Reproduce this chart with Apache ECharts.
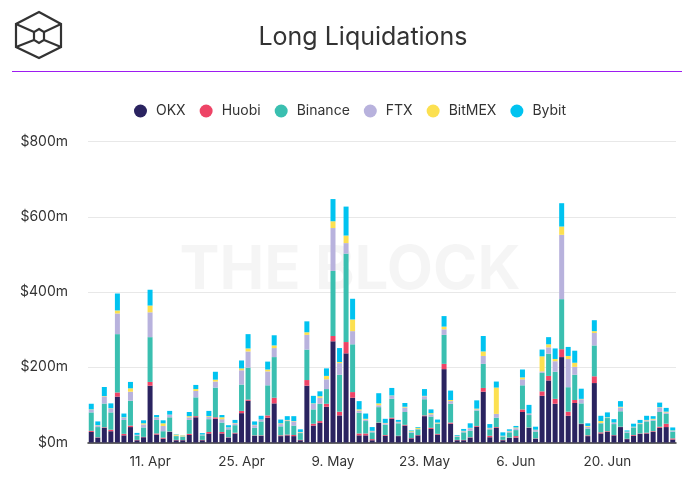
<!DOCTYPE html>
<html>
<head>
<meta charset="utf-8">
<script src="https://cdn.jsdelivr.net/npm/echarts@6/dist/echarts.min.js"></script>
<style>
html,body{margin:0;padding:0;background:#fff;}
#chart{width:700px;height:478px;}
</style>
</head>
<body>
<div id="chart"></div>
<script>
// Categories: one per day, 2 Apr .. 30 Jun (2022)
const startDate = '2022-04-02';
const dayCount = 90;
const monthNames = ['Jan','Feb','Mar','Apr','May','Jun','Jul','Aug','Sep','Oct','Nov','Dec'];
const tickLabels = ['11. Apr','25. Apr','9. May','23. May','6. Jun','20. Jun'];

const seriesNames = ['OKX','Huobi','Binance','FTX','BitMEX','Bybit'];
const seriesColors = ['#2a2360','#ee4466','#3abfb0','#b8b2dd','#fce050','#00c3f0'];

// values in $m
const okx = [28,13,39,30,122,19,41,6,14,151,21,10,28,6,6,20,67,6,24,63,24,13,24,78,111,18,18,66,104,17,19,17,6,151,45,52,95,269,72,237,119,19,19,6,52,18,63,17,45,11,19,70,36,21,195,50,6,6,13,42,135,14,39,6,12,13,81,39,10,124,165,103,227,71,105,49,17,158,24,28,19,41,9,18,23,24,28,39,41,8];
const huobi = [3,1,1.5,4,11,4,4,1,1,10,3,3,1,1,0.5,3,3,1,4,4,4,1,2,6,3,1,1,6,15,2,2,3,1,15,5,5,8,14,10,30,15,5,5,3,1,2,3,1,2,1,1,2,3,2,14,3,1,1,1,2,10,4,2,1,1,4,7,1,1,12,12,13,21,11,8,1,2,18,3,2,1,1,1,2,1,2,2,3,9,3];
const binance = [49,27,63,46,155,37,66,11,25,119,36,17,38,10,9,37,50,12,34,79,25,21,20,70,85,20,37,80,108,24,36,25,18,81,38,46,39,173,98,235,127,55,33,18,41,27,50,33,34,14,15,43,30,27,77,50,8,20,17,41,64,17,25,9,14,16,64,33,18,49,59,72,133,65,67,54,18,82,24,35,29,41,16,20,25,30,28,39,26,18];
const ftx = [7,4,19,10,55,6,24,2,8,66,6,14,6,1,1,7,17,1,6,16,9,4,5,38,43,7,4,37,24,6,2,11,2,39,15,16,26,114,31,28,35,6,4,3,5,4,8,3,12,2,1,8,6,1,15,7,2,3,7,3,21,3,10,1,3,5,16,3,4,4,17,28,171,75,21,11,5,33,1,1,3,10,2,1,2,3,3,12,4,2];
const bitmex = [1,1,1,1,8,1,9,0.5,3,18,1,7,1,3,2,3,5,1,2,5,5,1,1,5,8,1,1,5,7,2,1,1,1,7,1,4,9,18,3,20,31,3,2,1,5,1,1,1,2,2,3,1,3,2,7,3,1,1,1,2,12,1,70,1,1,2,5,1,1,40,8,6,22,8,11,1,2,5,5,1,1,2,1,1,1,1,2,1,2,1];
const bybit = [15,10,24,13,45,10,17,5,8,42,6,8,10,1,0.5,11,11,4,14,21,6,6,8,21,38,9,10,21,27,10,10,13,7,29,20,13,20,59,37,77,55,22,14,10,27,11,20,5,10,2,2,18,10,8,28,25,2,5,12,22,41,10,16,9,4,4,21,23,8,18,19,28,62,24,32,27,7,29,14,13,9,15,3,8,8,11,7,12,10,8];
const seriesValues = [okx, huobi, binance, ftx, bitmex, bybit];

const yTicks = {min: 0, max: 800, interval: 200};

// build category list
const categories = [];
const fmt = [];
(function(){
  const d0 = new Date(startDate + 'T00:00:00Z');
  for (let i = 0; i < dayCount; i++) {
    const d = new Date(d0.getTime() + i * 86400000);
    categories.push(d.toISOString().slice(0,10));
    fmt.push(d.getUTCDate() + '. ' + monthNames[d.getUTCMonth()]);
  }
})();

const chart = echarts.init(document.getElementById('chart'), null, {renderer: 'canvas'});
const FONT = 'Inter, "Noto Sans", sans-serif';

const option = {
  animation: false,
  backgroundColor: '#ffffff',
  textStyle: {fontFamily: FONT},
  graphic: [
    // logo
    {type: 'polygon', shape: {points: [[39,12],[61,24],[61,47],[39,58],[16,47],[16,24]]},
     style: {fill: 'none', stroke: '#333', lineWidth: 2.2}, z: 10},
    {type: 'polygon', shape: {points: [[39,29],[44,32],[44,40],[39,43],[34,40],[34,32]]},
     style: {fill: 'none', stroke: '#333', lineWidth: 2.2}, z: 10},
    {type: 'line', shape: {x1: 61, y1: 24, x2: 44, y2: 32}, style: {stroke: '#333', lineWidth: 2.2}, z: 10},
    {type: 'line', shape: {x1: 16, y1: 47, x2: 34, y2: 40}, style: {stroke: '#333', lineWidth: 2.2}, z: 10},
    {type: 'line', shape: {x1: 16, y1: 24, x2: 34, y2: 32}, style: {stroke: '#333', lineWidth: 2.2}, z: 10},
    {type: 'line', shape: {x1: 61, y1: 47, x2: 44, y2: 40}, style: {stroke: '#333', lineWidth: 2.2}, z: 10},
    // title
    {type: 'text', x: 363, y: 37, style: {text: 'Long Liquidations', fill: '#333', font: '400 25px ' + FONT, textAlign: 'center', textVerticalAlign: 'middle'}, z: 10},
    // purple rule
    {type: 'line', shape: {x1: 12, y1: 71.5, x2: 682, y2: 71.5}, style: {stroke: '#9d1cf0', lineWidth: 1.2}, z: 10},
    // watermark
    {type: 'text', x: 350, y: 271, style: {text: 'THE BLOCK', fill: 'rgba(0,0,0,0.04)', font: '700 60px ' + FONT, textAlign: 'center', textVerticalAlign: 'middle'}, z: -1}
  ],
  legend: {
    top: 99,
    left: 'center',
    icon: 'circle',
    itemWidth: 13,
    itemHeight: 13,
    itemGap: 14,
    data: seriesNames,
    textStyle: {color: '#333', fontSize: 14, fontFamily: FONT, padding: [0,0,0,4]}
  },
  grid: {left: 88, right: 24, top: 141.5, bottom: 35.5, containLabel: false},
  xAxis: {
    type: 'category',
    data: categories,
    axisLine: {lineStyle: {color: '#333', width: 1.5}},
    axisTick: {show: false},
    axisLabel: {
      color: '#333', fontSize: 13.5, margin: 12, fontFamily: FONT,
      interval: function(idx) { return tickLabels.indexOf(fmt[idx]) >= 0; },
      formatter: function(v, idx) { return fmt[idx]; }
    },
    splitLine: {show: false}
  },
  yAxis: {
    type: 'value',
    min: yTicks.min, max: yTicks.max, interval: yTicks.interval,
    axisLine: {show: false},
    axisTick: {show: false},
    axisLabel: {color: '#333', fontSize: 14, margin: 20, fontFamily: FONT,
      formatter: function(v){ return '$' + v + 'm'; }},
    splitLine: {lineStyle: {color: '#e8e8e8', width: 1.2}}
  },
  series: seriesNames.map(function(name, i) {
    return {
      name: name,
      type: 'bar',
      stack: 'total',
      barWidth: 5,
      data: seriesValues[i],
      itemStyle: {color: seriesColors[i]},
      z: 2
    };
  })
};
chart.setOption(option);
</script>
</body>
</html>
